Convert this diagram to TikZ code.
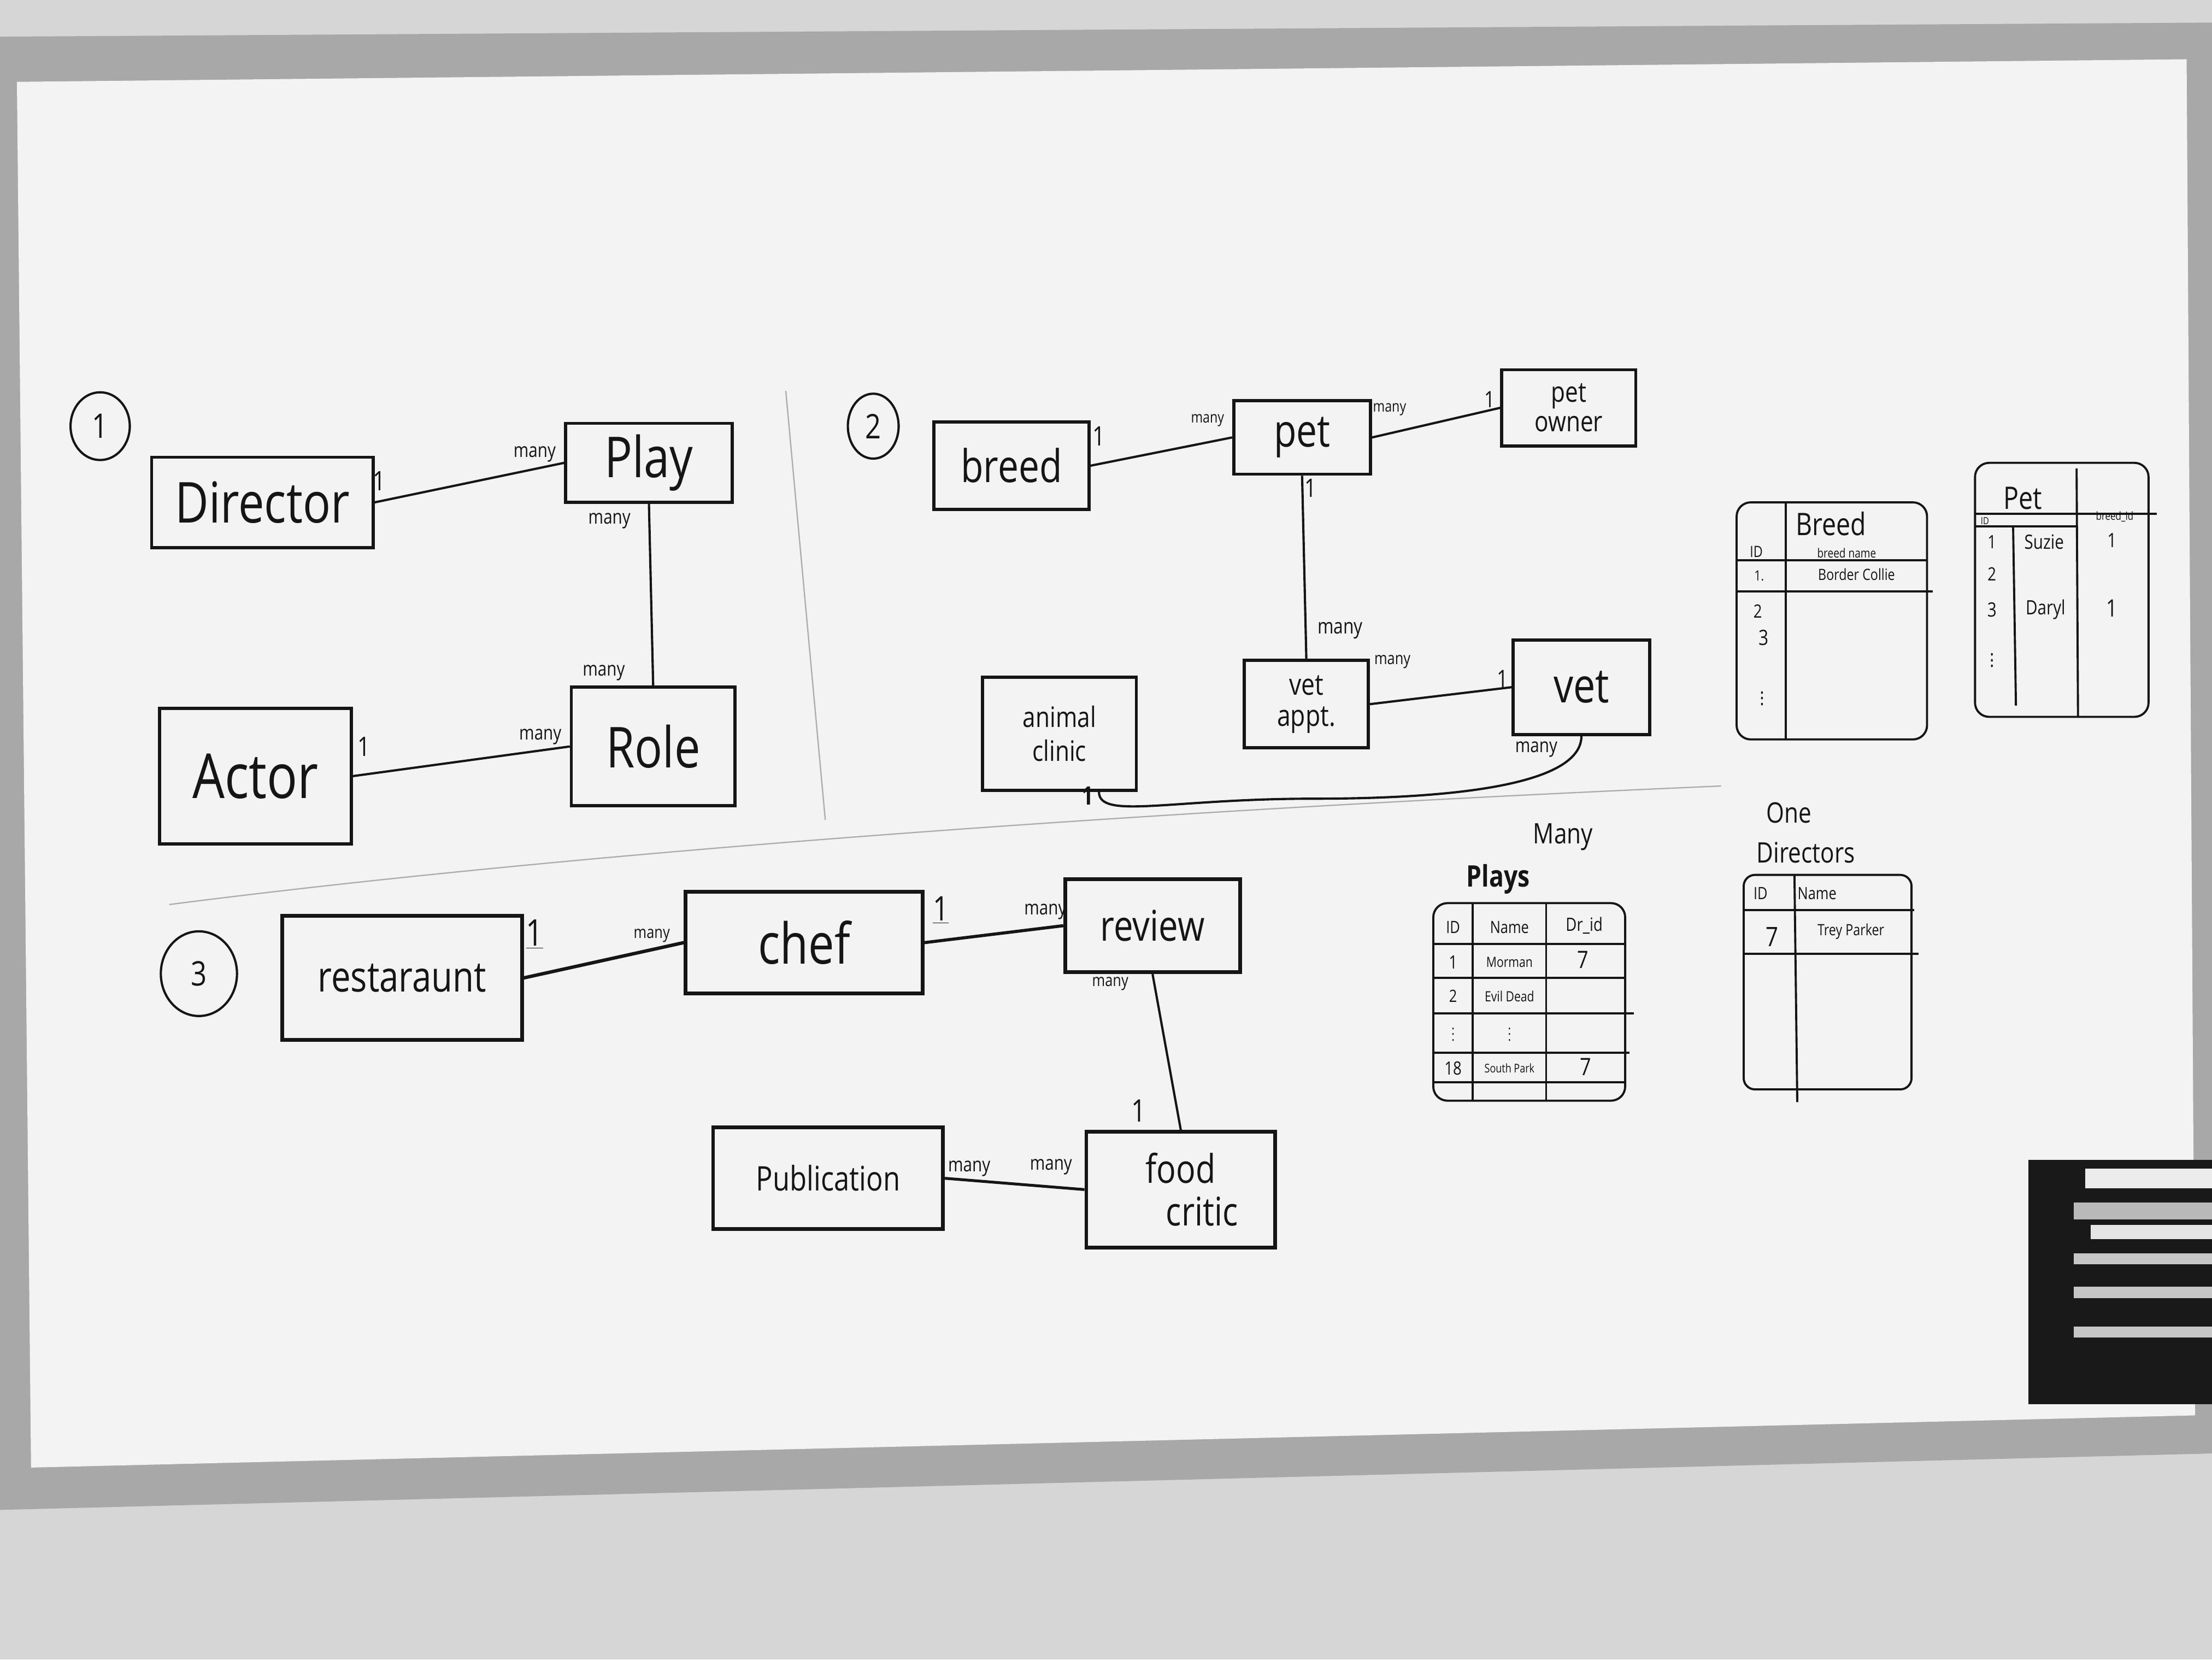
\documentclass[tikz,border=0pt]{standalone}
\usepackage{fontspec}
\setmainfont[FakeStretch=0.82]{Open Sans}
\usetikzlibrary{shapes.geometric}
\definecolor{ink}{HTML}{151515}
\definecolor{wall}{HTML}{D6D6D6}
\definecolor{framec}{HTML}{A8A8A8}
\definecolor{board}{HTML}{F3F3F3}
\newcommand{\fs}[1]{\fontsize{#1}{#1}\selectfont}
\newcommand{\fsl}[2]{\fontsize{#1}{#2}\selectfont}
\begin{document}
\begin{tikzpicture}[x=1pt,y=-1pt,
  ent/.style={draw=ink, line width=2.2pt, inner sep=0pt, text=ink, align=center},
  conn/.style={draw=ink, line width=1.6pt},
  card/.style={text=ink, inner sep=0pt, font=\fs{14}},
  onelbl/.style={text=ink, inner sep=0pt, font=\fs{19}},
  numc/.style={draw=ink, line width=1.6pt, ellipse, inner sep=0pt, text=ink, font=\fs{24}},
  tline/.style={draw=ink, line width=1.5pt},
  cell/.style={text=ink, inner sep=0pt},
  sep/.style={draw=gray!65, line width=0.9pt}]
\useasboundingbox (0,0) rectangle (1568,1176);
% ---------- wall, frame, board ----------
\fill[wall] (0,0) rectangle (1568,1176);
\fill[framec] (0,26) -- (1568,16) -- (1568,1030) -- (0,1070) -- cycle;
\fill[board] (12,58) -- (1550,42) -- (1556,1003) -- (22,1040) -- cycle;
% marker tray
\fill[black!90] (1438,822) rectangle (1568,995);
\fill[gray!15] (1478,828) rectangle (1568,842);
\fill[gray!55] (1470,852) rectangle (1568,864);
\fill[gray!20] (1482,868) rectangle (1568,878);
\fill[gray!45] (1470,888) rectangle (1568,896);
\fill[gray!45] (1470,912) rectangle (1568,920);
\fill[gray!45] (1470,940) rectangle (1568,948);
% ---------- separators ----------
\draw[sep] (557,277) -- (585,581);
\draw[sep] (120,641) .. controls (400,605) and (800,575) .. (1220,557);

% ---------- Section 1 ----------
\node[numc, minimum width=42, minimum height=48] (n1) at (71,302) {1};
\node[ent, minimum width=157, minimum height=64, font=\fs{40}] (dir) at (186,356) {Director};
\node[ent, minimum width=118, minimum height=56, font=\fs{40}] (play) at (460,328) {Play};
\node[ent, minimum width=136, minimum height=96, font=\fs{44}] (actor) at (181,550) {Actor};
\node[ent, minimum width=116, minimum height=84, font=\fs{40}] (role) at (463,529) {Role};
\draw[conn] (dir.east) -- (play.west);
\draw[conn] (play.south) -- (role.north);
\draw[conn] (actor.east) -- (role.west);
\node[onelbl] (l1a) at (269,341) {1};
\node[card] (l1b) at (379,322) {many};
\node[card] (l1c) at (432,369) {many};
\node[card] (l1d) at (428,477) {many};
\node[onelbl] (l1e) at (258,529) {1};
\node[card] (l1f) at (383,522) {many};

% ---------- Section 2 ----------
\node[numc, minimum width=36, minimum height=46] (n2) at (619,302) {2};
\node[ent, minimum width=110, minimum height=62, font=\fs{32}] (breed) at (717,330) {breed};
\node[ent, minimum width=97, minimum height=52, font=\fs{32}] (pet) at (923,310) {pet};
\node[ent, minimum width=95, minimum height=54, font=\fsl{20}{21}] (owner) at (1112,289) {pet\\owner};
\node[ent, minimum width=109, minimum height=80, font=\fsl{20}{24}] (clinic) at (751,520) {animal\\clinic};
\node[ent, minimum width=88, minimum height=62, font=\fsl{21}{22}] (appt) at (926,499) {vet\\appt.};
\node[ent, minimum width=97, minimum height=67, font=\fs{34}] (vet) at (1121,487) {vet};
\draw[conn] (breed.east) -- (pet.west);
\draw[conn] (pet.east) -- (owner.west);
\draw[conn] (pet.south) -- (appt.north);
\draw[conn] (appt.east) -- (vet.west);
\draw[conn] (vet.south) .. controls +(0,40) and +(70,0) .. (930,566)
  .. controls +(-100,0) and +(0,20) .. ([xshift=28pt]clinic.south);
\node[onelbl] (l2a) at (779,309) {1};
\node[card, font=\fs{11}] (l2b) at (856,298) {many};
\node[card, font=\fs{11}] (l2c) at (985,290) {many};
\node[card, font=\fs{16}] (l2d) at (1056,283) {1};
\node[card, font=\fs{18}] (l2e) at (929,346) {1};
\node[card, font=\fs{15}] (l2f) at (950,447) {many};
\node[card, font=\fs{12}] (l2g) at (987,469) {many};
\node[card, font=\fs{17}] (l2h) at (1065,481) {1};
\node[card, font=\fs{14}] (l2i) at (1089,531) {many};
\node[onelbl, font=\bfseries\fs{18}] (l2j) at (771,564) {1};

% ---------- Section 3 ----------
\node[numc, minimum width=54, minimum height=60] (n3) at (141,690) {3};
\node[ent, minimum width=170, minimum height=88, font=\fs{30}, line width=2.6pt] (rest) at (285,693) {restaraunt};
\node[ent, minimum width=168, minimum height=72, font=\fs{40}, line width=2.6pt] (chef) at (570,668) {chef};
\node[ent, minimum width=124, minimum height=66, font=\fs{30}, line width=2.6pt] (review) at (817,656) {review};
\node[ent, minimum width=163, minimum height=72, font=\fs{24}, line width=2.6pt] (pub) at (587,835) {Publication};
\node[ent, minimum width=134, minimum height=82, font=\fsl{28}{30}, line width=2.6pt] (critic) at (837,843) {food\\\hspace*{30pt}critic};
\draw[conn, line width=2.4pt] (rest.east) -- (chef.west);
\draw[conn, line width=2.2pt] (chef.east) -- (review.west);
\draw[conn] (review.south) -- (critic.north);
\draw[conn, line width=2pt] (pub.east) -- (critic.west);
\node[onelbl, font=\fs{26}] (l3a) at (379,662) {\underline{1}};
\node[card, font=\fs{12}] (l3b) at (462,663) {many};
\node[onelbl, font=\fs{24}] (l3c) at (667,645) {\underline{1}};
\node[card, font=\fs{14}] (l3d) at (741,646) {many};
\node[card, font=\fs{12}] (l3e) at (787,697) {many};
\node[onelbl, font=\fs{22}] (l3f) at (807,787) {1};
\node[card, font=\fs{14}] (l3g) at (687,828) {many};
\node[card, font=\fs{14}] (l3h) at (745,827) {many};

% ---------- Breed table ----------
\draw[tline, rounded corners=10] (1231,356) rectangle (1366,524);
\draw[tline] (1266,356) -- (1266,524);
\draw[tline] (1231,397) -- (1366,397);
\draw[tline] (1231,419) -- (1370,419);
\node[cell, font=\fs{22}] (bt) at (1298,371) {Breed};
\node[cell, font=\fs{9}] (bh2) at (1309,392) {breed name};
\node[cell, font=\fs{11}] (bh1) at (1245,391) {ID};
\node[cell, font=\fs{10}] (b1a) at (1247,408) {1.};
\node[cell, font=\fs{11}] (b1b) at (1316,407) {Border Collie};
\node[cell, font=\fs{13}] (b2a) at (1246,433) {2};
\node[cell, font=\fs{15}] (b3a) at (1250,452) {3};
\node[cell, font=\fs{14}] (b4a) at (1249,492) {$\vdots$};

% ---------- Pet table ----------
\draw[tline, rounded corners=10] (1400,328) rectangle (1523,508);
\draw[tline] (1400,364) -- (1529,364);
\draw[tline] (1400,373) -- (1472,373);
\draw[tline] (1427,373) -- (1429,500);
\draw[tline] (1472,332) -- (1473,508);
\node[cell, font=\fs{22}] (pt) at (1434,353) {Pet};
\node[cell, font=\fs{7}] (ph1) at (1407,369) {ID};
\node[cell, font=\fs{8}] (ph3) at (1499,366) {breed\_id};
\node[cell, font=\fs{13}] (p1a) at (1412,384) {1};
\node[cell, font=\fs{14}] (p1b) at (1449,384) {Suzie};
\node[cell, font=\fs{14}] (p1c) at (1497,383) {1};
\node[cell, font=\fs{13}] (p2a) at (1412,407) {2};
\node[cell, font=\fs{14}] (p3a) at (1412,432) {3};
\node[cell, font=\fs{14}] (p3b) at (1450,432) {Daryl};
\node[cell, font=\fs{17}] (p3c) at (1497,431) {1};
\node[cell, font=\fs{14}] (p4a) at (1412,465) {$\vdots$};

% ---------- Plays table ----------
\node[cell, font=\fs{20}] (mny) at (1108,593) {Many};
\node[cell, font=\bfseries\fs{21}] (plt) at (1062,623) {Plays};
\draw[tline, rounded corners=10] (1016,640) rectangle (1152,780);
\draw[tline] (1044,640) -- (1044,780);
\draw[tline] (1096,640) -- (1096,780);
\draw[tline] (1016,669) -- (1152,669);
\draw[tline] (1016,693) -- (1152,693);
\draw[tline] (1016,718) -- (1158,718);
\draw[tline] (1016,746) -- (1155,746);
\draw[tline] (1016,767) -- (1152,767);
\node[cell, font=\fs{12}] (plh1) at (1030,657) {ID};
\node[cell, font=\fs{12}] (plh2) at (1070,657) {Name};
\node[cell, font=\fs{13}] (plh3) at (1123,656) {Dr\_id};
\node[cell, font=\fs{13}] (pl1a) at (1030,682) {1};
\node[cell, font=\fs{10}] (pl1b) at (1070,682) {Morman};
\node[cell, font=\fs{17}] (pl1c) at (1122,680) {7};
\node[cell, font=\fs{12}] (pl2a) at (1030,706) {2};
\node[cell, font=\fs{10}] (pl2b) at (1070,706) {Evil Dead};
\node[cell, font=\fs{10}] (pl3a) at (1030,730) {$\vdots$};
\node[cell, font=\fs{10}] (pl3b) at (1070,730) {$\vdots$};
\node[cell, font=\fs{13}] (pl4a) at (1030,757) {18};
\node[cell, font=\fs{8.5}] (pl4b) at (1070,757) {South Park};
\node[cell, font=\fs{17}] (pl4c) at (1124,756) {7};

% ---------- Directors table ----------
\node[cell, font=\fs{20}] (one) at (1268,576) {One};
\node[cell, font=\fs{20}] (dirt) at (1280,604) {Directors};
\draw[tline, rounded corners=8] (1236,620) rectangle (1355,772);
\draw[tline] (1272,620) -- (1274,781);
\draw[tline] (1236,645) -- (1357,645);
\draw[tline] (1236,676) -- (1360,676);
\node[cell, font=\fs{12}] (dh1) at (1248,633) {ID};
\node[cell, font=\fs{12}] (dh2) at (1288,633) {Name};
\node[cell, font=\fs{19}] (d1a) at (1256,664) {7};
\node[cell, font=\fs{11}] (d1b) at (1312,660) {Trey Parker};
\end{tikzpicture}
\end{document}
